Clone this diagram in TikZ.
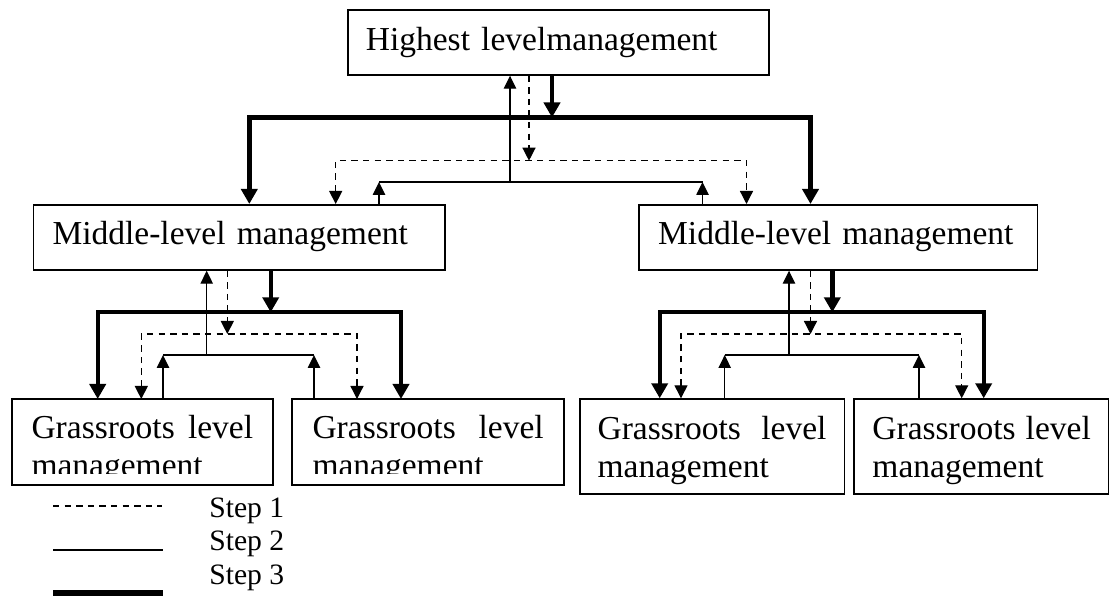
\documentclass[tikz,border=0pt]{standalone}
\usepackage{fontspec}
\setmainfont{Liberation Serif}
\usepackage{tikz}
\usetikzlibrary{
  arrows.meta,
  positioning,
  calc
}
\newcommand{\boxFont}{\fontsize{16.75}{19}\selectfont}
\newcommand{\legendFont}{\fontsize{14.8}{17}\selectfont}
\tikzset{
  level/.style={
    draw,
    line width=0.85pt,
    anchor=north west,
    inner ysep=0pt,
    align=left,
    font=\boxFont
  }
}
\tikzset{
  stepOne/.style={
    line width=0.65pt,
    dash pattern=on 3.2pt off 2.6pt,
    >={Triangle[width=6.5pt,length=6.5pt]}
  }
}
\tikzset{
  stepTwo/.style={
    line width=0.65pt,
    >={Triangle[width=6.2pt,length=6.5pt]}
  }
}
\tikzset{
  stepThree/.style={
    line width=2.2pt,
    >={Triangle[width=8pt,length=7.5pt]}
  }
}

\begin{document}
\begin{tikzpicture}[x=0.5pt, y=-0.5pt]
    \fill[white] (0,0) rectangle (1109,598);
    \useasboundingbox (0,0) rectangle (1109,598);
    % boxes
    \node[level, inner xsep=9pt, text width=192.5pt,
      text height=20.5pt, text depth=12pt] (top) at (347,9)
      {Highest levelmanagement};
    \node[level, inner xsep=9.5pt, text width=186.65pt,
      text height=19.75pt, text depth=12.75pt] (mL) at (32.7,204)
      {Middle-level management};
    \node[level, inner xsep=9.65pt, text width=180.05pt,
      text height=19.75pt, text depth=12.75pt] (mR) at (638,204)
      {Middle-level management};
    \begin{scope}
      \clip (0,0) rectangle (1109,474);
      \node[level, draw=none, inner xsep=9.35pt, text width=110.8pt,
        text height=19.5pt, text depth=22.65pt] (g1) at (12,399)
        {Grassroots\hfill level\\management};
      \node[level, draw=none, inner xsep=9.7pt, text width=115.6pt,
        text height=19.5pt, text depth=22.65pt] (g2) at (292.3,399)
        {Grassroots\hfill level\\management};
    \end{scope}
    \draw[line width=0.85pt] (g1.north west) rectangle (g1.south east);
    \draw[line width=0.85pt] (g2.north west) rectangle (g2.south east);
    \node[level, inner xsep=8.9pt, text width=114.45pt,
      text height=20.35pt, text depth=27.25pt] (g3) at (579,398.3)
      {Grassroots\hfill level\\management};
    \node[level, inner xsep=9.15pt, text width=109.2pt,
      text height=20.35pt, text depth=27.25pt] (g4) at (853.3,398.3)
      {Grassroots\hfill level\\management};

    % top level
    \coordinate (topThree) at (552,117.5);
    \coordinate (topOne) at (529,160.7);
    \coordinate (topTwo) at (510,182);
    \draw[stepThree,->] (top.south -| topThree) -- (topThree);
    \draw[stepThree,<->] (mL.north -| 249.3,0) |- (topThree)
      -| (mR.north -| 810.5,0);
    \draw[stepOne,->] (top.south -| topOne) -- (topOne);
    \draw[stepOne,<->] (mL.north -| 335.7,0) |- (topOne)
      -| (mR.north -| 746.5,0);
    \draw[stepTwo,->] (topTwo) -- (top.south -| topTwo);
    \draw[stepTwo] (topTwo -| 379,0) -- (topTwo -| 702.5,0);
    \draw[stepTwo,->] (mL.north -| 379,0) -- (topTwo -| 379,0);
    \draw[stepTwo,->] (mR.north -| 702.5,0) -- (topTwo -| 702.5,0);

    % left middle level
    \coordinate (leftThree) at (270.7,312.3);
    \coordinate (leftOne) at (227.3,334);
    \coordinate (leftTwo) at (206.7,355);
    \draw[stepThree,->] (mL.south -| leftThree) -- (leftThree);
    \draw[stepThree,<->] (g1.north -| 97.7,0) |- (leftThree)
      -| (g2.north -| 401,0);
    \draw[stepOne,->] (mL.south -| leftOne) -- (leftOne);
    \draw[stepOne,<->] (g1.north -| 141.3,0) |- (leftOne)
      -| (g2.north -| 357,0);
    \draw[stepTwo,->] (leftTwo) -- (mL.south -| leftTwo);
    \draw[stepTwo] (leftTwo -| 163,0) -- (leftTwo -| 314,0);
    \draw[stepTwo,->] (g1.north -| 163,0) -- (leftTwo -| 163,0);
    \draw[stepTwo,->] (g2.north -| 314,0) -- (leftTwo -| 314,0);

    % right middle level
    \coordinate (rightThree) at (832.3,312.3);
    \coordinate (rightOne) at (810.5,334);
    \coordinate (rightTwo) at (789,355);
    \draw[stepThree,->] (mR.south -| rightThree) -- (rightThree);
    \draw[stepThree,<->] (g3.north -| 659.7,0) |- (rightThree)
      -| (g4.north -| 983.7,0);
    \draw[stepOne,->] (mR.south -| rightOne) -- (rightOne);
    \draw[stepOne,<->] (g3.north -| 681,0) |- (rightOne)
      -| (g4.north -| 961.7,0);
    \draw[stepTwo,->] (rightTwo) -- (mR.south -| rightTwo);
    \draw[stepTwo] (rightTwo -| 724.7,0) -- (rightTwo -| 919,0);
    \draw[stepTwo,->] (g3.north -| 724.7,0) -- (rightTwo -| 724.7,0);
    \draw[stepTwo,->] (g4.north -| 919,0) -- (rightTwo -| 919,0);

    % legend
    \node[font=\legendFont, anchor=base west, inner sep=0pt] (s1) at (209,517) {Step 1};
    \node[font=\legendFont, anchor=base west, inner sep=0pt] (s2)
      at ($(s1.base west)+(0,34)$) {Step 2};
    \node[font=\legendFont, anchor=base west, inner sep=0pt] (s3)
      at ($(s2.base west)+(0,34)$) {Step 3};
    \draw[stepOne] ($(s1.base west)+(-156,-11)$) -- ++(109,0);
    \draw[stepTwo] ($(s2.base west)+(-156,-1)$) -- ++(110,0);
    \draw[stepThree, line width=3pt] ($(s3.base west)+(-156,8)$) -- ++(110,0);
  \end{tikzpicture}
\end{document}
